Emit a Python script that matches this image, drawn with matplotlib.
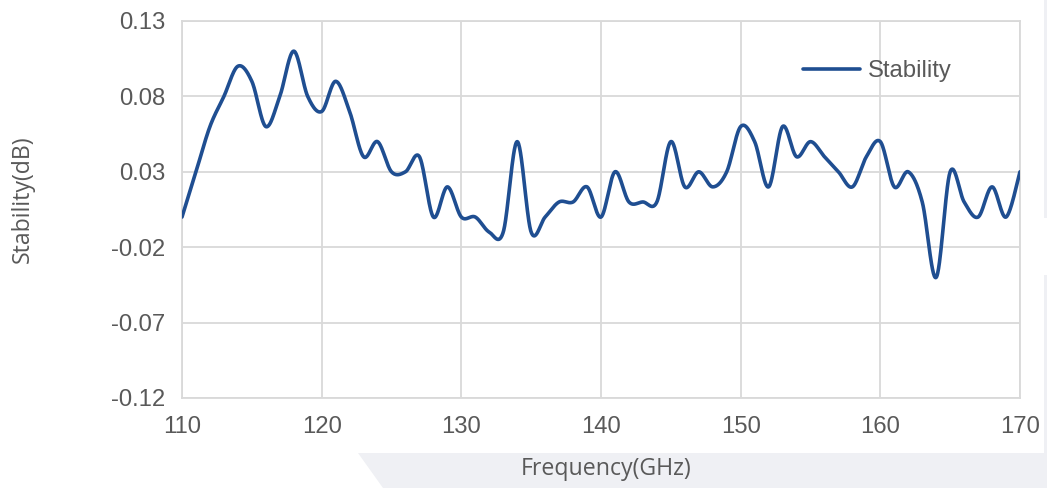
import numpy as np
import matplotlib
matplotlib.use("Agg")
import matplotlib.pyplot as plt
from matplotlib.patches import Polygon, Rectangle

# ---- data ----
freq = list(range(110, 171))
stability = [
    0.00, 0.03, 0.06, 0.08, 0.10, 0.09, 0.06, 0.08, 0.11, 0.08,   # 110-119
    0.07, 0.09, 0.07, 0.04, 0.05, 0.03, 0.03, 0.04, 0.00, 0.02,   # 120-129
    0.00, 0.00, -0.01, -0.01, 0.05, -0.01, 0.00, 0.01, 0.01, 0.02,  # 130-139
    0.00, 0.03, 0.01, 0.01, 0.01, 0.05, 0.02, 0.03, 0.02, 0.03,   # 140-149
    0.06, 0.05, 0.02, 0.06, 0.04, 0.05, 0.04, 0.03, 0.02, 0.04,   # 150-159
    0.05, 0.02, 0.03, 0.01, -0.04, 0.03, 0.01, 0.00, 0.02, 0.00,  # 160-169
    0.03,                                                          # 170
]
series_name = "Stability"
x_ticks = [110, 120, 130, 140, 150, 160, 170]
x_tick_labels = ["110", "120", "130", "140", "150", "160", "170"]
y_ticks = [-0.12, -0.07, -0.02, 0.03, 0.08, 0.13]
y_tick_labels = ["-0.12", "-0.07", "-0.02", "0.03", "0.08", "0.13"]
x_label = "Frequency(GHz)"
y_label = "Stability(dB)"


def smooth_curve(xs, ys, n=30):
    """Excel-style smoothed line (Catmull-Rom as cubic Bezier)."""
    xs = np.asarray(xs, float)
    ys = np.asarray(ys, float)
    px = np.concatenate([[xs[0]], xs, [xs[-1]]])
    py = np.concatenate([[ys[0]], ys, [ys[-1]]])
    t = np.linspace(0, 1, n, endpoint=False)
    ox, oy = [], []
    for i in range(1, len(px) - 2):
        p0 = np.array([px[i], py[i]])
        p3 = np.array([px[i + 1], py[i + 1]])
        c1 = p0 + (np.array([px[i + 1], py[i + 1]]) - np.array([px[i - 1], py[i - 1]])) / 6
        c2 = p3 - (np.array([px[i + 2], py[i + 2]]) - np.array([px[i], py[i]])) / 6
        b = ((1 - t) ** 3)[:, None] * p0 + (3 * (1 - t) ** 2 * t)[:, None] * c1 \
            + (3 * (1 - t) * t ** 2)[:, None] * c2 + (t ** 3)[:, None] * p3
        ox.append(b[:, 0])
        oy.append(b[:, 1])
    ox.append([xs[-1]])
    oy.append([ys[-1]])
    return np.concatenate(ox), np.concatenate(oy)


W, H = 1047, 488
fig = plt.figure(figsize=(W / 100, H / 100), dpi=100)
fig.patch.set_facecolor("white")

band = "#EFF0F4"
fig.patches.append(Polygon([(358 / W, 1 - 453 / H), (1, 1 - 453 / H), (1, 0), (383 / W, 0)],
                           closed=True, transform=fig.transFigure, facecolor=band,
                           edgecolor="none", zorder=0))
fig.patches.append(Rectangle((1044 / W, 1 - 218 / H), 3 / W, 218 / H,
                             transform=fig.transFigure, facecolor=band, edgecolor="none", zorder=0))
fig.patches.append(Rectangle((1044 / W, 1 - 453 / H), 3 / W, (453 - 275) / H,
                             transform=fig.transFigure, facecolor=band, edgecolor="none", zorder=0))

ax = fig.add_axes([182 / W, 1 - 398 / H, (1020 - 182) / W, (398 - 21) / H])
ax.set_facecolor("white")

sx, sy = smooth_curve(freq, stability)
ax.plot(sx, sy, color="#1F4E91", linewidth=2.6, solid_capstyle="round",
        solid_joinstyle="round", label=series_name, zorder=3)

ax.set_xlim(110, 170)
ax.set_ylim(-0.12, 0.13)
ax.set_xticks(x_ticks)
ax.set_xticklabels(x_tick_labels)
ax.set_yticks(y_ticks)
ax.set_yticklabels(y_tick_labels)

grid_c = "#D9D9D9"
ax.grid(True, color=grid_c, linewidth=1.3, zorder=0)
ax.set_axisbelow(True)
for s in ax.spines.values():
    s.set_color(grid_c)
    s.set_linewidth(1.3)

fs = 17.2
ax.tick_params(length=0, colors="#595959", labelsize=fs)
ax.tick_params(axis="x", pad=13)
ax.tick_params(axis="y", pad=12)
for lbl in ax.get_xticklabels() + ax.get_yticklabels():
    lbl.set_fontfamily(["Liberation Sans", "DejaVu Sans"])

leg = ax.legend(loc="center left", bbox_to_anchor=(803 / W, 1 - 71 / H),
                bbox_transform=fig.transFigure, frameon=False, borderpad=0,
                borderaxespad=0, handlelength=2.4, handletextpad=0.3,
                prop=dict(family=["Liberation Sans", "DejaVu Sans"], size=fs))
for t in leg.get_texts():
    t.set_color("#595959")

lab_font = dict(family=["Open Sans", "DejaVu Sans"], size=16.7, color="#595959")
fig.text(606 / W, 1 - 469 / H, x_label, ha="center", va="center", **lab_font)
fig.text(23 / W, 1 - 199 / H, y_label, ha="center", va="center", rotation=90, **lab_font)

fig.savefig("out.png", dpi=100, facecolor=fig.get_facecolor())
